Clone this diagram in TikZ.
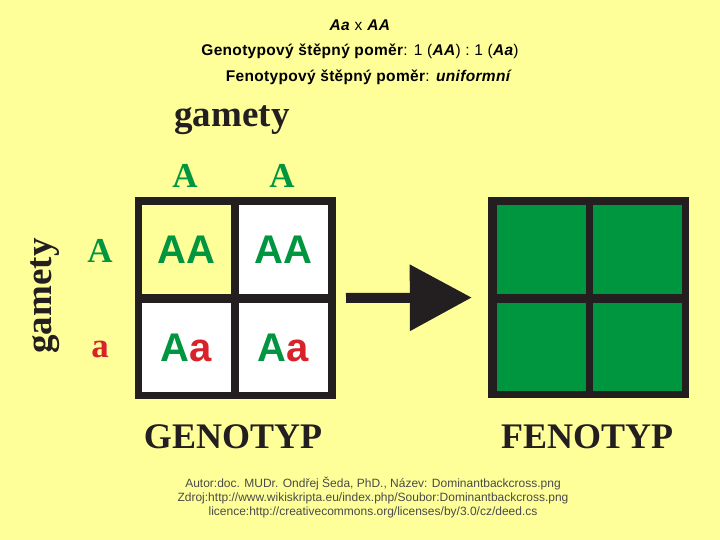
\documentclass[tikz,border=0pt]{standalone}
\usepackage{fontspec}
\setmainfont{Liberation Serif}
\setsansfont{Liberation Sans}
\newfontfamily\topsans[LetterSpace=2]{Liberation Sans}
\usetikzlibrary{arrows.meta}
\definecolor{bgyellow}{HTML}{FFFF99}
\definecolor{gengreen}{HTML}{00963F}
\definecolor{genred}{HTML}{D8232A}
\definecolor{inkdark}{HTML}{231F20}
\definecolor{credgray}{HTML}{4A4A4A}
\begin{document}
\begin{tikzpicture}[x=1pt,y=-1pt,
  toptext/.style={font=\topsans\fontsize{15.5}{17}\selectfont, text=black, inner sep=0pt},
  credtext/.style={font=\sffamily\fontsize{12}{14}\selectfont, text=credgray, align=center, inner sep=0pt},
  bigserif/.style={font=\rmfamily\bfseries\fontsize{36}{40}\selectfont, text=inkdark, inner sep=0pt},
  gametxt/.style={font=\rmfamily\bfseries\fontsize{37}{40}\selectfont, text=inkdark, inner sep=0pt},
  allele/.style={font=\rmfamily\bfseries\fontsize{35}{38}\selectfont, inner sep=0pt},
  gridframe/.style={fill=inkdark, minimum width=201pt, minimum height=201pt, inner sep=0pt},
  cellbox/.style={minimum width=89pt, minimum height=89pt, inner sep=0pt,
    font=\sffamily\bfseries\fontsize{40}{44}\selectfont},
  pcell/.style={fill=gengreen, minimum width=89pt, minimum height=88pt, inner sep=0pt}]
\useasboundingbox (0,0) rectangle (720,540);
\fill[bgyellow] (0,0) rectangle (720,540);

% header texts
\node[toptext] (t1) at (360,25) {\textbf{\textit{Aa}} x \textbf{\textit{AA}}};
\node[toptext] (t2) at (360,51) {\textbf{Genotypový štěpný poměr}: 1 (\textbf{\textit{AA}}) : 1 (\textbf{\textit{Aa}})};
\node[toptext] (t3) at (369,77) {\textbf{Fenotypový štěpný poměr}: \textbf{\textit{uniformní}}};

% gamety labels
\node[gametxt] (gtop) at (232,120) {gamety};
\node[gametxt, rotate=90] (gleft) at (45,296) {gamety};
\node[allele, text=gengreen] (c1) at (185,176) {A};
\node[allele, text=gengreen] (c2) at (282,176) {A};
\node[allele, text=gengreen] (r1) at (100,251) {A};
\node[allele, text=genred] (r2) at (100,349) {a};

% genotype grid
\node[gridframe] (ggrid) at (235,298) {};
\node[cellbox, fill=bgyellow, text=gengreen] (g11) at (186.5,249.5) {AA};
\node[cellbox, fill=white, text=gengreen] (g12) at (283.5,249.5) {AA};
\node[cellbox, fill=white] (g21) at (186.5,347.5) {\textcolor{gengreen}{A}\textcolor{genred}{a}};
\node[cellbox, fill=white] (g22) at (283.5,347.5) {\textcolor{gengreen}{A}\textcolor{genred}{a}};

% phenotype grid
\node[gridframe] (pgrid) at (588.5,297.5) {};
\node[pcell] (p11) at (541,249.5) {};
\node[pcell] (p12) at (637.5,249.5) {};
\node[pcell] (p21) at (541,347) {};
\node[pcell] (p22) at (637.5,347) {};

% arrow
\coordinate (ashaft) at (346,298);
\draw[inkdark, line width=10pt, shorten >=16pt,
  -{Triangle[length=62pt,width=64pt]}] (ashaft) -- (pgrid.west);

% bottom labels
\node[bigserif] (geno) at (233,437) {GENOTYP};
\node[bigserif] (feno) at (587,437) {FENOTYP};

\node[credtext] (cred) at (373,497) {Autor:doc. MUDr. Ondřej Šeda, PhD., Název: Dominantbackcross.png\\
Zdroj:http://www.wikiskripta.eu/index.php/Soubor:Dominantbackcross.png\\
licence:http://creativecommons.org/licenses/by/3.0/cz/deed.cs};
\end{tikzpicture}
\end{document}
